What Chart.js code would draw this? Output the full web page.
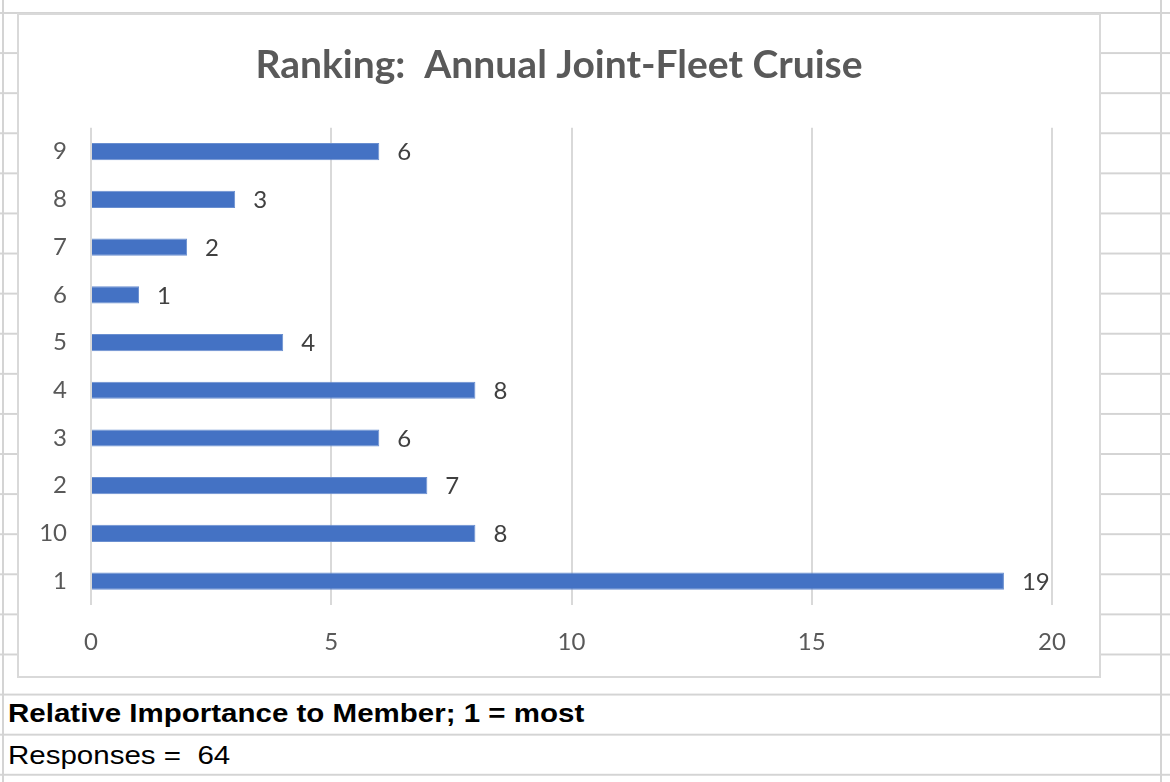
<!DOCTYPE html>
<html>
<head>
<meta charset="utf-8">
<script src="https://cdn.jsdelivr.net/npm/chart.js@4/dist/chart.umd.min.js"></script>
<style>
  html, body { margin: 0; padding: 0; }
  body {
    width: 1170px; height: 782px; position: relative; overflow: hidden;
    background-color: #fff;
    background-image:
      linear-gradient(to bottom, #d4d4d4 2px, transparent 2px);
    background-size: 100% 40.1px;
    background-position: 0 12px;
  }
  .vline { position: absolute; top: 0; width: 2px; height: 782px; background: #d4d4d4; }
  #box {
    position: absolute; left: 17px; top: 13px; width: 1080px; height: 661px;
    background: #fff; border: 2px solid #d9d9d9;
  }
  #box canvas { position: absolute; left: 0; top: 0; }
  .cell {
    position: absolute; left: 8px; font-family: "Liberation Sans", Arial, sans-serif;
    font-size: 25px; line-height: 26px; color: #000; white-space: pre;
    transform: scaleX(1.18); transform-origin: 0 0;
  }
</style>
</head>
<body>
<div class="vline" style="left:2px"></div>
<div class="vline" style="left:1160px"></div>
<div id="box"><canvas id="rankChart" width="1080" height="661"></canvas></div>
<div class="cell" style="top:700px;font-weight:bold;">Relative Importance to Member; 1 = most</div>
<div class="cell" style="top:742px;">Responses =  64</div>
<script>
const rankLabels = ['9', '8', '7', '6', '5', '4', '3', '2', '10', '1'];
const rankCounts = [6, 3, 2, 1, 4, 8, 6, 7, 8, 19];
const xTicks = [0, 5, 10, 15, 20];

const labelFont = 'Lato, "Open Sans", sans-serif';

// value labels just past the end of each bar
const valueLabels = {
    id: 'valueLabels',
    afterDatasetsDraw(chart) {
        const ctx = chart.ctx;
        const meta = chart.getDatasetMeta(0);
        ctx.save();
        ctx.font = '24px ' + labelFont;
        ctx.fillStyle = '#404040';
        ctx.textAlign = 'left';
        ctx.textBaseline = 'middle';
        meta.data.forEach(function (bar, i) {
            ctx.fillText(String(rankCounts[i]), bar.x + 18, bar.y + 1);
        });
        ctx.restore();
    }
};

const ctxRank = document.getElementById('rankChart').getContext('2d');
new Chart(ctxRank, {
    type: 'bar',
    data: {
        labels: rankLabels,
        datasets: [{
            data: rankCounts,
            backgroundColor: '#4472C4',
            borderColor: '#6a8fd0',
            borderWidth: 1,
            categoryPercentage: 1,
            barPercentage: 0.36
        }]
    },
    options: {
        indexAxis: 'y',
        responsive: false,
        animation: false,
        layout: { padding: 0 },
        plugins: {
            legend: { display: false },
            tooltip: { enabled: false },
            title: {
                display: true,
                text: 'Ranking:  Annual Joint-Fleet Cruise',
                color: '#595959',
                font: { family: labelFont, size: 39, weight: 'bold', lineHeight: 1.2 },
                padding: { top: 27, bottom: 39 }
            }
        },
        scales: {
            x: {
                min: 0,
                max: 20,
                afterBuildTicks(scale) { scale.ticks = xTicks.map(v => ({ value: v })); },
                afterFit(scale) {
                    scale.height = 71;
                    scale.paddingRight = 47;  // keep plot right edge off the box, title stays centred
                },
                border: { display: false },
                grid: { color: '#d9d9d9', lineWidth: 2, drawTicks: false },
                ticks: { color: '#595959', padding: 23, font: { family: labelFont, size: 24 } }
            },
            y: {
                afterFit(scale) { scale.width = 72; },
                border: { display: false },
                grid: { display: false, drawTicks: false },
                ticks: { color: '#595959', padding: 24, font: { family: labelFont, size: 24 } }
            }
        }
    },
    plugins: [valueLabels]
});
</script>
</body>
</html>
